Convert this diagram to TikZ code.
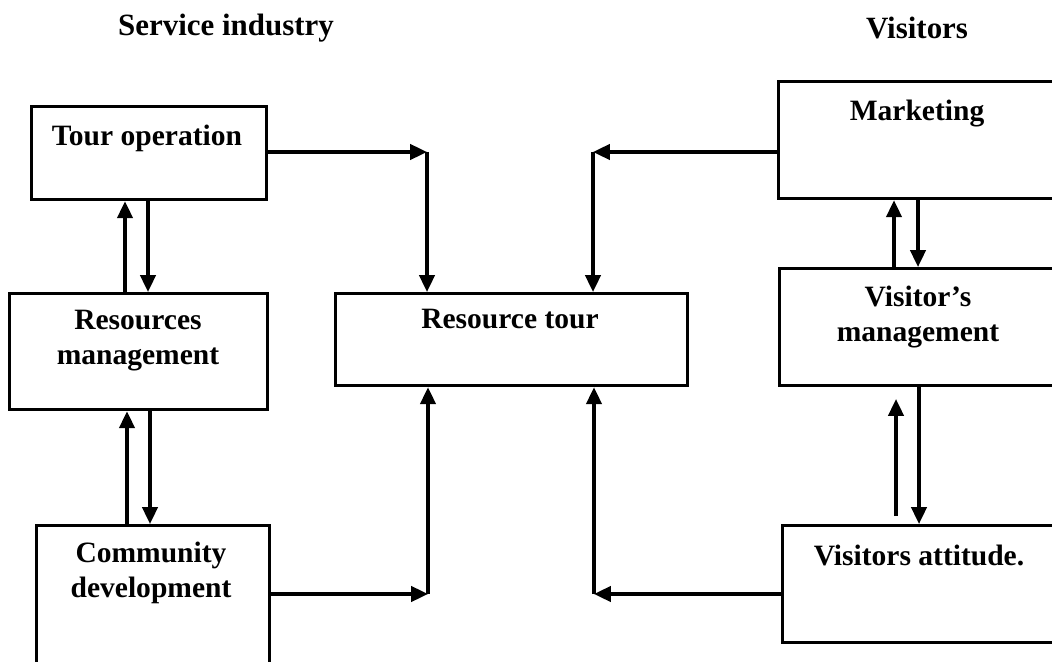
\documentclass[tikz,border=0pt]{standalone}
\usepackage{fontspec}
\setmainfont{Liberation Serif}
\usetikzlibrary{arrows.meta}
\begin{document}
\begin{tikzpicture}[x = 0.025cm, y = -0.025cm, line width = 2.3pt,
                    >= {Triangle[length = 0.42cm, width = 0.38cm]},
                    box/.style = {draw, rectangle, anchor = north west, inner sep = 0pt},
                    txt/.style = {align = center, font = \bfseries\fontsize{21}{25}\selectfont},
                    head/.style = {font = \bfseries\fontsize{22}{26}\selectfont}]
                    \useasboundingbox (0, 0) rectangle (1052, 662);

                    \node[head] (Service)  at (226,  28) {Service industry};
                    \node[head] (Visitors) at (917,  28) {Visitors};

                    \node[box, minimum width = 5.875cm, minimum height = 2.325cm] (Tour)     at ( 30, 105) {};
                    \node[box, minimum width = 6.45cm,  minimum height = 2.9cm]   (Res)      at (  8, 292) {};
                    \node[box, minimum width = 5.825cm, minimum height = 3.9cm]   (Comm)     at ( 35, 524) {};
                    \node[box, minimum width = 8.8cm,   minimum height = 2.3cm]   (Rtour)    at (334, 292) {};
                    \node[box, minimum width = 7.325cm, minimum height = 2.925cm] (Market)   at (777,  80) {};
                    \node[box, minimum width = 7.3cm,   minimum height = 2.925cm] (Visman)   at (778, 267) {};
                    \node[box, minimum width = 7.225cm, minimum height = 2.925cm] (Attitude) at (781, 524) {};

                    \node[txt] (TourText)     at (147, 138) {Tour operation};
                    \node[txt] (ResText)      at (138, 341) {Resources\\management};
                    \node[txt] (CommText)     at (151, 573) {Community\\development};
                    \node[txt] (RtourText)    at (510, 319) {Resource tour};
                    \node[txt] (MarketText)   at (917, 114) {Marketing};
                    \node[txt] (VismanText)   at (918, 317) {Visitor's\\management};
                    \node[txt] (AttitudeText) at (919, 555) {Visitors attitude.};

                    \coordinate (TR) at (427, 152);
                    \coordinate (MR) at (593, 152);
                    \coordinate (CL) at (428, 594);
                    \coordinate (AL) at (594, 594);
                    \coordinate (U1) at (125,   0);
                    \coordinate (D1) at (148,   0);
                    \coordinate (U2) at (127,   0);
                    \coordinate (D2) at (150,   0);
                    \coordinate (U3) at (894,   0);
                    \coordinate (D3) at (918,   0);
                    \coordinate (U4) at (896, 516);
                    \coordinate (V4) at (896, 399);
                    \coordinate (D4) at (919,   0);

                    \draw[->] (Tour.east |- TR) -- (TR);
                    \draw[->] (TR) -- (Rtour.north -| TR);
                    \draw[->] (Market.west |- MR) -- (MR);
                    \draw[->] (MR) -- (Rtour.north -| MR);
                    \draw[->] (Comm.east |- CL) -- (CL);
                    \draw[->] (CL) -- (Rtour.south -| CL);
                    \draw[->] (Attitude.west |- AL) -- (AL);
                    \draw[->] (AL) -- (Rtour.south -| AL);

                    \draw[->] (Res.north -| U1) -- (Tour.south -| U1);
                    \draw[->] (Tour.south -| D1) -- (Res.north -| D1);
                    \draw[->] (Comm.north -| U2) -- (Res.south -| U2);
                    \draw[->] (Res.south -| D2) -- (Comm.north -| D2);
                    \draw[->] (Visman.north -| U3) -- (Market.south -| U3);
                    \draw[->] (Market.south -| D3) -- (Visman.north -| D3);
                    \draw[->] (U4) -- (V4);
                    \draw[->] (Visman.south -| D4) -- (Attitude.north -| D4);
                \end{tikzpicture}
\end{document}
